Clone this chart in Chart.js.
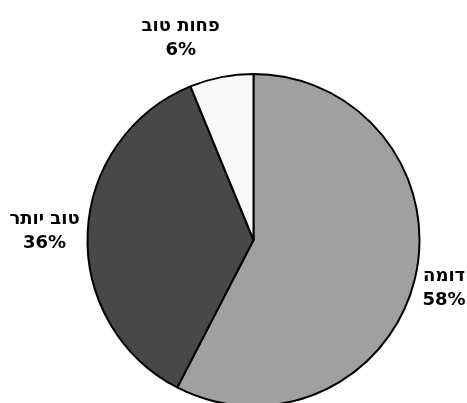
<!DOCTYPE html>
<html>
<head>
<meta charset="utf-8">
<script src="https://cdn.jsdelivr.net/npm/chart.js@4"></script>
<style>
  html, body { margin: 0; padding: 0; background: #ffffff; }
  canvas { display: block; }
</style>
</head>
<body>
<canvas id="pieChart" width="467" height="403"></canvas>
<script>
// data (slice angles), labels show rounded %
const categories = ['דומה', 'טוב יותר', 'פחות טוב'];
const shares = [57.6, 36.2, 6.2];
const sliceColors = ['#a0a0a0', '#484848', '#f8f8f8'];

// draws "name / NN%" outside each slice, placed from the arc geometry
const outsideLabels = {
    id: 'outsideLabels',
    afterDatasetsDraw(chart) {
        const ctx = chart.ctx;
        const meta = chart.getDatasetMeta(0);
        const lineGap = 24;
        ctx.save();
        ctx.fillStyle = '#000000';
        ctx.font = 'bold 18px "DejaVu Sans"';
        ctx.textAlign = 'center';
        ctx.textBaseline = 'middle';
        meta.data.forEach((arc, i) => {
            const p = arc.getProps(['x', 'y', 'startAngle', 'endAngle', 'outerRadius'], true);
            const mid = (p.startAngle + p.endAngle) / 2;
            const cos = Math.cos(mid);
            const sin = Math.sin(mid);
            const line1 = categories[i];
            const line2 = Math.round(shares[i]) + '%';
            const halfW = Math.max(ctx.measureText(line1).width, ctx.measureText(line2).width) / 2;
            const r = p.outerRadius + 8;
            const cx = p.x + cos * r + Math.sign(cos) * halfW;
            const cy = p.y + sin * r + sin * (lineGap / 2 + 20);
            ctx.fillText(line1, cx, cy - lineGap / 2);
            ctx.fillText(line2, cx, cy + lineGap / 2);
        });
        ctx.restore();
    }
};

new Chart(document.getElementById('pieChart').getContext('2d'), {
    type: 'pie',
    data: {
        labels: categories,
        datasets: [{
            data: shares,
            backgroundColor: sliceColors,
            borderColor: '#000000',
            borderWidth: 2
        }]
    },
    options: {
        responsive: false,
        animation: false,
        radius: 166,
        layout: { padding: { top: 77, bottom: 0, left: 40, right: 0 } },
        plugins: {
            legend: { display: false },
            tooltip: { enabled: false }
        }
    },
    plugins: [outsideLabels]
});
</script>
</body>
</html>
